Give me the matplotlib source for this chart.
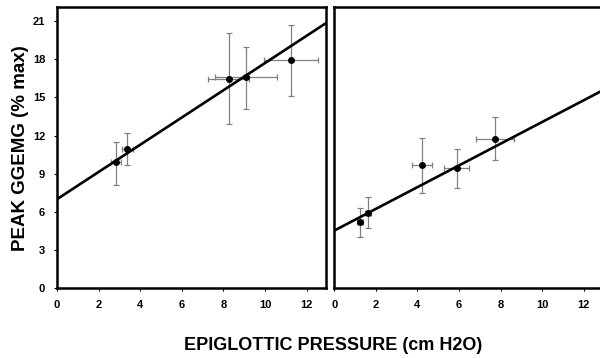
import numpy as np
import matplotlib
matplotlib.use("Agg")
import matplotlib.pyplot as plt

plt.rcParams["font.family"] = ["Liberation Sans", "DejaVu Sans"]
plt.rcParams["font.weight"] = "bold"

# ---- Data: peak GGEMG vs epiglottic pressure ----
# left panel
left_x = [2.84, 3.38, 8.25, 9.09, 11.25]
left_y = [9.95, 10.92, 16.44, 16.57, 17.91]
left_xerr = [0.25, 0.25, 1.0, 1.5, 1.3]
left_yerr_lo = [1.85, 1.2, 3.55, 2.45, 2.8]
left_yerr_hi = [1.55, 1.25, 3.6, 2.4, 2.75]
left_fit = (7.0, 1.07)          # intercept, slope

# right panel
right_x = [1.24, 1.63, 4.20, 5.88, 7.73]
right_y = [5.23, 5.94, 9.69, 9.43, 11.75]
right_xerr = [0.15, 0.15, 0.48, 0.62, 0.9]
right_yerr_lo = [1.18, 1.23, 2.19, 1.57, 1.67]
right_yerr_hi = [1.05, 1.21, 2.09, 1.49, 1.73]
right_fit = (4.53, 0.854)

XMAX = 12.93
YMAX = 22.1

fig = plt.figure(figsize=(6.0, 3.58), dpi=100)
ax_l = fig.add_axes([0.095, 0.1947, 0.4483, 0.7857])
ax_r = fig.add_axes([0.557, 0.1947, 0.4483, 0.7857])


def draw_panel(ax, xs, ys, xerr, ylo, yhi, fit, show_y):
    ax.errorbar(xs, ys, xerr=xerr, yerr=[ylo, yhi], fmt="o", color="black",
                ms=4, ecolor="#808080", elinewidth=0.9, capsize=2,
                capthick=0.9, zorder=3)
    xx = np.array([0, XMAX])
    ax.plot(xx, fit[0] + fit[1] * xx, color="black", lw=1.9, zorder=4)
    ax.set_xlim(0, XMAX)
    ax.set_ylim(0, YMAX)
    ax.set_xticks(range(0, 13, 2))
    for s in ax.spines.values():
        s.set_linewidth(1.8)
    ax.tick_params(direction="out", length=2.5, width=0.8, labelsize=8)
    ax.tick_params(axis="x", pad=6)
    ax.tick_params(axis="y", pad=6)
    if show_y:
        ax.set_yticks(range(0, 22, 3))
    else:
        ax.set_yticks([])
    for lab in ax.get_xticklabels() + ax.get_yticklabels():
        lab.set_fontweight("bold")


draw_panel(ax_l, left_x, left_y, left_xerr, left_yerr_lo, left_yerr_hi,
           left_fit, True)
draw_panel(ax_r, right_x, right_y, right_xerr, right_yerr_lo, right_yerr_hi,
           right_fit, False)

fig.text(0.035, 0.585, "PEAK GGEMG (% max)", rotation=90, ha="center",
         va="center", fontsize=13.5, fontweight="bold")
fig.text(0.555, 0.035, "EPIGLOTTIC PRESSURE (cm H2O)", ha="center",
         va="center", fontsize=13, fontweight="bold")

fig.savefig("out.png", dpi=100, facecolor="white")
